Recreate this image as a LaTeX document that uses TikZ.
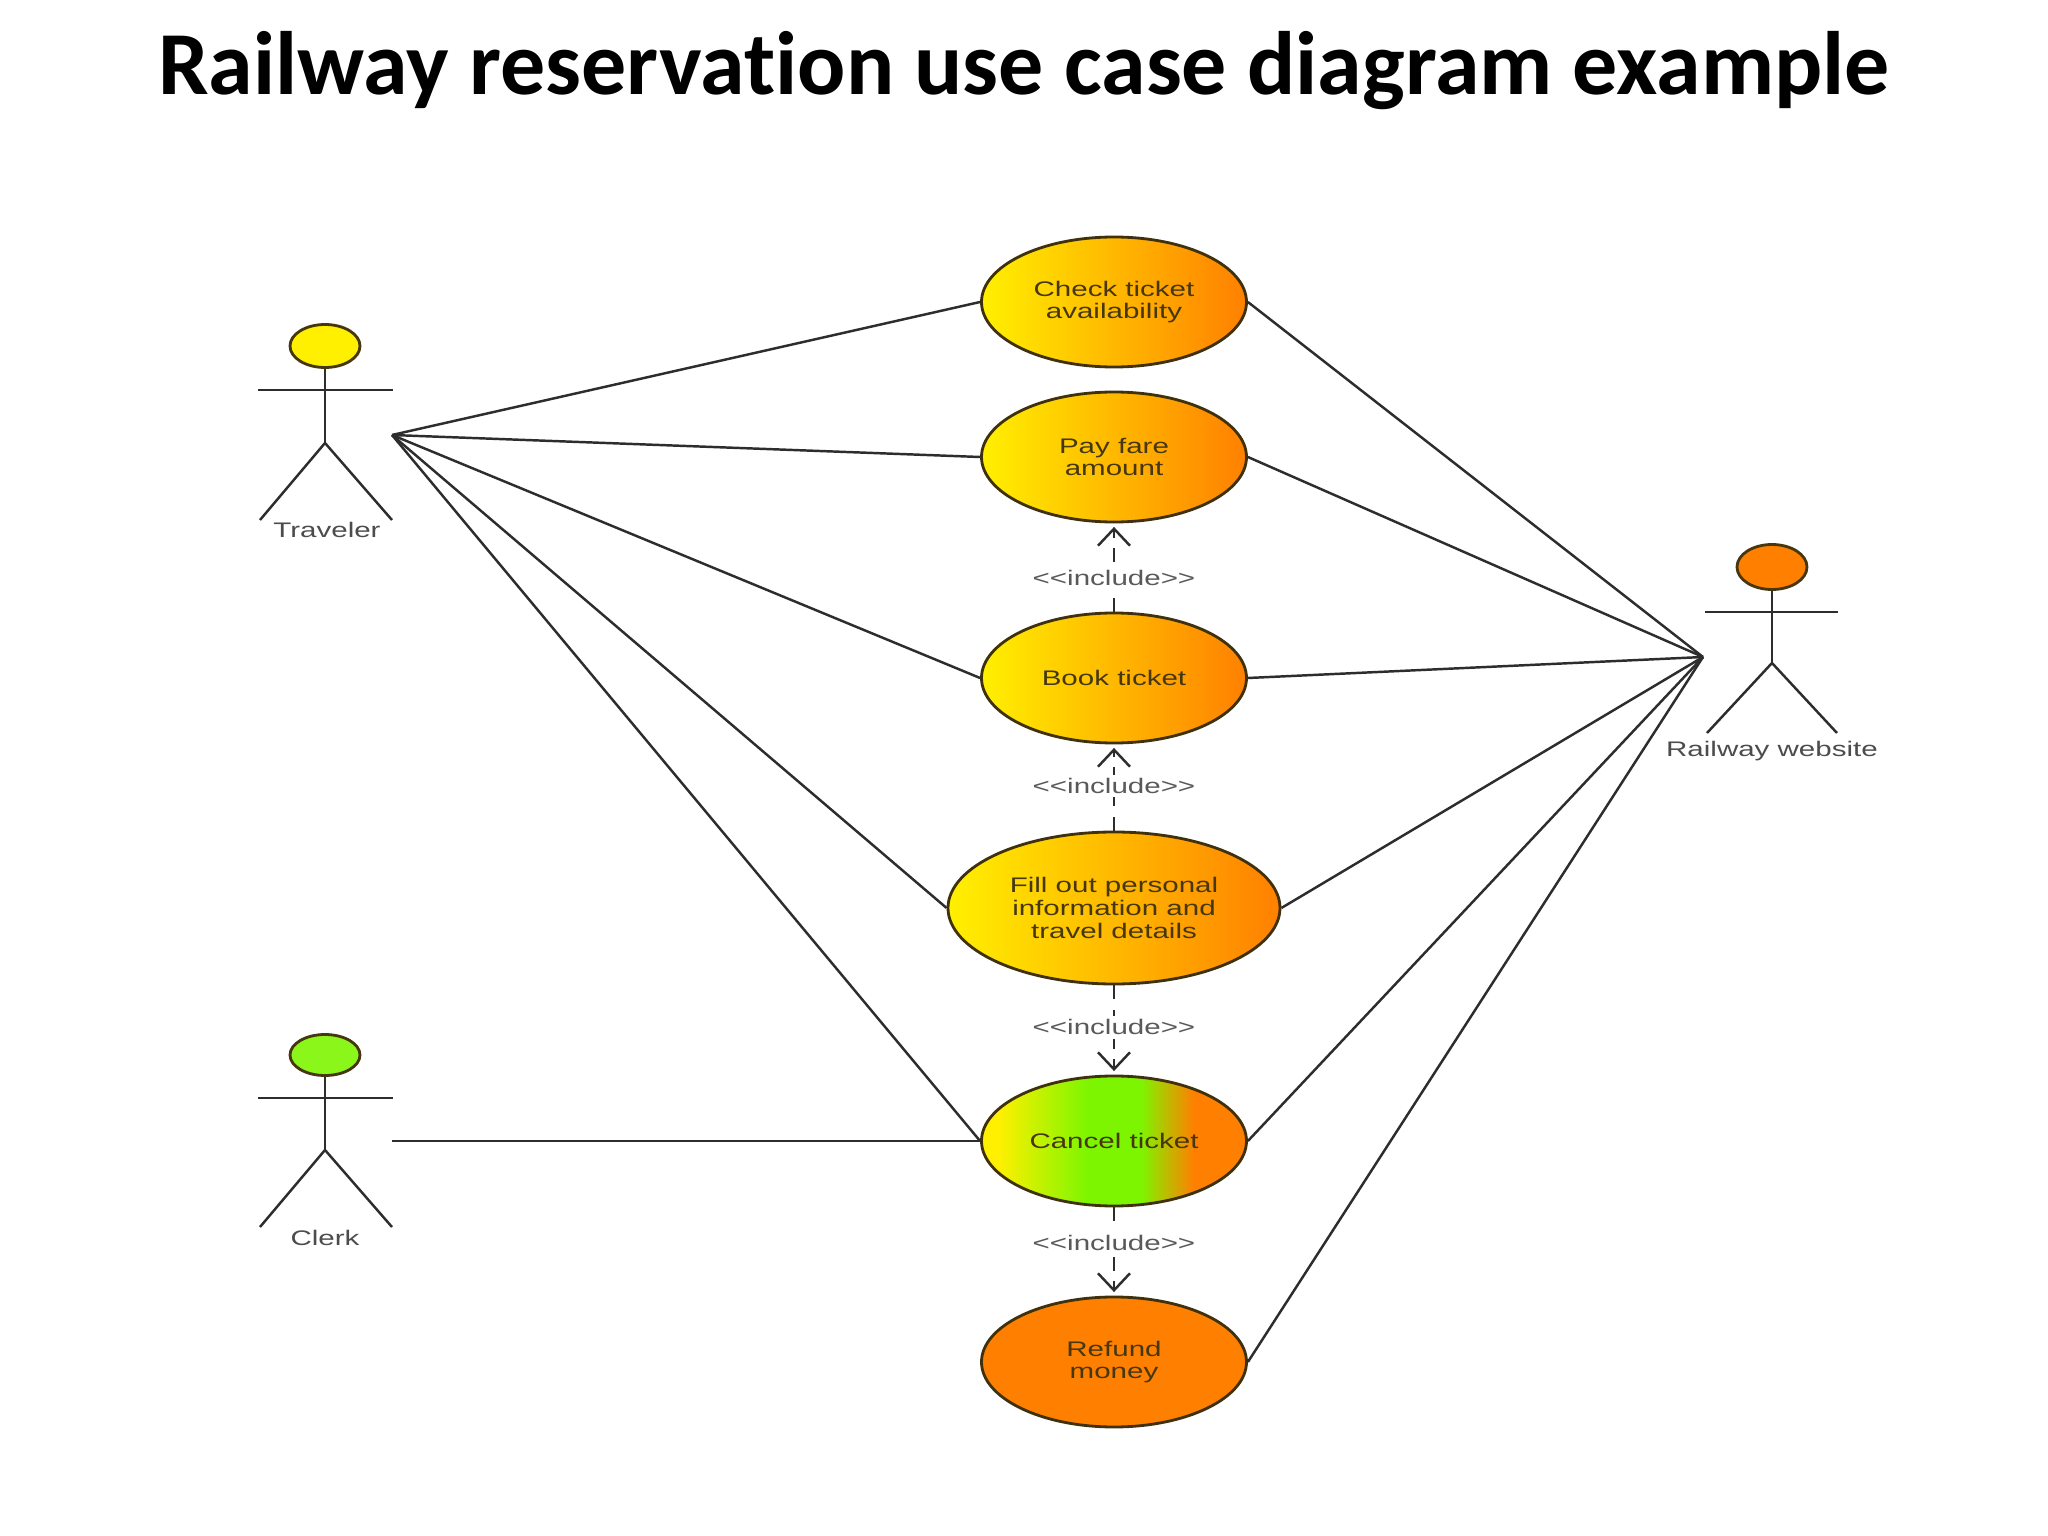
\documentclass[tikz,border=0pt]{standalone}
\usepackage{fontspec}
\setmainfont{Liberation Sans}
\newfontfamily\titlefont[Ligatures=NoCommon]{Carlito}
\newfontfamily\ucfont[FakeStretch=1.4, Ligatures=TeXOff]{Liberation Sans}
\definecolor{ucyellow}{RGB}{255, 240, 0}
\definecolor{ucgold}{RGB}{255, 192, 0}
\definecolor{ucorange}{RGB}{255, 128, 0}
\definecolor{ucgreen}{RGB}{125, 245, 0}
\definecolor{uctext}{RGB}{70, 55, 15}
\definecolor{lineblack}{RGB}{45, 45, 45}
\usetikzlibrary{shapes.geometric, arrows.meta}
\pgfdeclarehorizontalshading{cancelshade}{100bp}{color(0bp)=(ucyellow); color(28bp)=(ucyellow); color(45bp)=(ucgreen); color(55bp)=(ucgreen); color(65bp)=(ucorange); color(100bp)=(ucorange)}

\begin{document}
\begin{tikzpicture}[y=-1cm,
  usecase/.style={ellipse, draw=uctext!90!black, line width=0.8pt, minimum width=2.65cm, minimum height=1.3cm, inner sep=0pt, align=center, font=\ucfont\fontsize{6}{6.5}\selectfont, text=uctext},
  sunny/.style={left color=ucyellow, middle color=ucgold, right color=ucorange},
  assoc/.style={draw=lineblack, line width=0.7pt},
  include/.style={draw=lineblack, line width=0.7pt, dash pattern=on 4pt off 3pt, -{Straight Barb[length=1.7mm, width=3.2mm]}, shorten >=1pt},
  inclabel/.style={fill=white, inner sep=1pt, font=\ucfont\fontsize{6}{6.5}\selectfont, text=black!65},
  actorlabel/.style={anchor=base, font=\ucfont\fontsize{6}{6.5}\selectfont, text=black!70}]

  % page
  \fill[white] (0, 0) rectangle (20.48, 15.36);
  \useasboundingbox (0, 0) rectangle (20.48, 15.36);

  % Title
  \node[anchor=base, font=\titlefont\bfseries\fontsize{25.6}{30}\selectfont] (title) at (10.24, 0.95) {Railway reservation use case diagram example};

  % Use cases
  \node[usecase, sunny] (check) at (11.14, 3.02) {Check ticket\\availability};
  \node[usecase, sunny] (pay) at (11.14, 4.57) {Pay fare\\amount};
  \node[usecase, sunny] (book) at (11.14, 6.78) {Book ticket};
  \node[usecase, sunny, minimum width=3.32cm, minimum height=1.52cm] (fill) at (11.14, 9.08) {Fill out personal\\information and\\travel details};
  \node[usecase, shading=cancelshade] (cancel) at (11.14, 11.41) {Cancel ticket};
  \node[usecase, fill=ucorange] (refund) at (11.14, 13.62) {Refund\\money};

  % Traveler
  \draw[assoc] (3.25, 3.68) -- (3.25, 4.43);
  \draw[assoc] (2.58, 3.90) -- (3.93, 3.90);
  \draw[assoc] (2.60, 5.20) -- (3.25, 4.43) -- (3.92, 5.20);
  \node[ellipse, draw=uctext, line width=0.8pt, fill=ucyellow, minimum width=0.70cm, minimum height=0.43cm, inner sep=0pt] (travhead) at (3.25, 3.46) {};
  \node[actorlabel] (travlabel) at (3.27, 5.38) {Traveler};
  \coordinate (traveler) at (3.92, 4.35);

  % Clerk
  \draw[assoc] (3.25, 10.75) -- (3.25, 11.50);
  \draw[assoc] (2.58, 10.98) -- (3.93, 10.98);
  \draw[assoc] (2.60, 12.27) -- (3.25, 11.50) -- (3.92, 12.27);
  \node[ellipse, draw=uctext, line width=0.8pt, fill=ucgreen!90!white, minimum width=0.70cm, minimum height=0.41cm, inner sep=0pt] (clerkhead) at (3.25, 10.55) {};
  \node[actorlabel] (clerklabel) at (3.25, 12.45) {Clerk};
  \coordinate (clerk) at (3.92, 11.41);

  % Railway website
  \draw[assoc] (17.72, 5.89) -- (17.72, 6.63);
  \draw[assoc] (17.05, 6.12) -- (18.38, 6.12);
  \draw[assoc] (17.07, 7.33) -- (17.72, 6.63) -- (18.37, 7.33);
  \node[ellipse, draw=uctext, line width=0.8pt, fill=ucorange, minimum width=0.70cm, minimum height=0.45cm, inner sep=0pt] (webhead) at (17.72, 5.67) {};
  \node[actorlabel] (weblabel) at (17.72, 7.56) {Railway website};
  \coordinate (website) at (17.03, 6.57);

  % Associations
  \draw[assoc] (traveler) -- (check.west);
  \draw[assoc] (traveler) -- (pay.west);
  \draw[assoc] (traveler) -- (book.west);
  \draw[assoc] (traveler) -- (fill.west);
  \draw[assoc] (traveler) -- (cancel.west);
  \draw[assoc] (clerk) -- (cancel.west);
  \draw[assoc] (website) -- (check.east);
  \draw[assoc] (website) -- (pay.east);
  \draw[assoc] (website) -- (book.east);
  \draw[assoc] (website) -- (fill.east);
  \draw[assoc] (website) -- (cancel.east);
  \draw[assoc] (website) -- (refund.east);

  % Includes
  \draw[include] (book.north) -- node[inclabel, pos=0.38] {<<include>>} (pay.south);
  \draw[include] (fill.north) -- node[inclabel, pos=0.52] {<<include>>} (book.south);
  \draw[include] (fill.south) -- node[inclabel, pos=0.47] {<<include>>} (cancel.north);
  \draw[include] (cancel.south) -- node[inclabel, pos=0.40] {<<include>>} (refund.north);
\end{tikzpicture}
\end{document}
